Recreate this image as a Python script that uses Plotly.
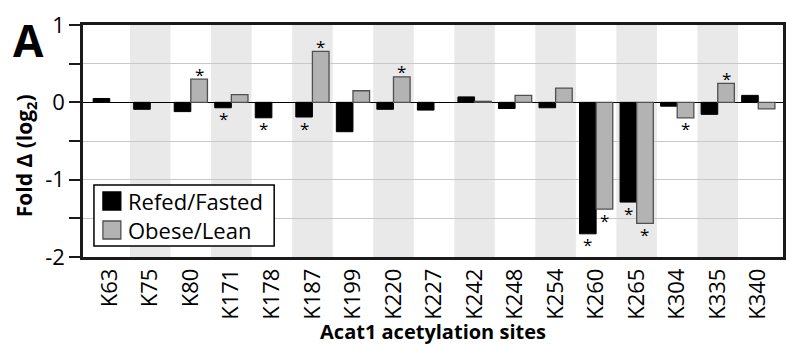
import plotly.graph_objects as go

# Acat1 acetylation sites and log2 fold changes
sites = ["K63", "K75", "K80", "K171", "K178", "K187", "K199", "K220", "K227",
         "K242", "K248", "K254", "K260", "K265", "K304", "K335", "K340"]
refed_fasted = [0.05, -0.09, -0.12, -0.07, -0.20, -0.19, -0.38, -0.09, -0.10,
                0.07, -0.08, -0.07, -1.70, -1.29, -0.05, -0.155, 0.09]
obese_lean = [None, None, 0.30, 0.10, None, 0.66, 0.15, 0.33, None,
              0.013, 0.09, 0.185, -1.38, -1.565, -0.20, 0.245, -0.085]
# significance flags (asterisks)
refed_sig = [False, False, False, True, True, True, False, False, False,
             False, False, False, True, True, False, False, False]
obese_sig = [False, False, True, False, False, True, False, True, False,
             False, False, False, True, True, True, True, False]

series_names = ["Refed/Fasted", "Obese/Lean"]
series_fill = ["#000000", "#b3b3b3"]
series_edge = ["#000000", "#505050"]

y_ticks = [1, 0, -1, -2]
y_ticktext = ["1", "0", "-1", "-2"]
y_minor = [0.5, -0.5, -1.5]

FONT = "Open Sans"
BARGAP = 0.18
half_w = (1 - BARGAP) / 4  # offset of each bar centre within its group

W, H = 787, 345
M_L, M_R, M_T, M_B = 83, 1, 25, 88
plot_w = W - M_L - M_R
plot_h = H - M_T - M_B


def px_x(p):
    """page pixel column -> paper x"""
    return (p - M_L) / plot_w


def px_y(p):
    """page pixel row -> paper y"""
    return (H - M_B - p) / plot_h


fig = go.Figure()
for name, vals, fill, edge, lw in zip(series_names, [refed_fasted, obese_lean],
                                      series_fill, series_edge, [1, 1.3]):
    fig.add_trace(go.Bar(
        x=sites, y=vals, name=name, showlegend=False,
        marker=dict(color=fill, line=dict(color=edge, width=lw)),
    ))

# alternating shaded columns
shapes = []
for i in range(1, len(sites), 2):
    shapes.append(dict(type="rect", xref="x", yref="paper",
                       x0=i - 0.5, x1=i + 0.5, y0=0, y1=1,
                       fillcolor="#e9e9e9", line=dict(width=0), layer="below"))

annotations = []

# asterisks over significant bars
def add_stars(values, flags, offset):
    for i, (v, s) in enumerate(zip(values, flags)):
        if s and v is not None:
            annotations.append(dict(
                x=i + offset, y=v, xref="x", yref="y", text="*",
                showarrow=False, xanchor="center", yanchor="middle",
                yshift=5 if v > 0 else -11,
                font=dict(family=FONT, size=17, color="#000000")))


add_stars(refed_fasted, refed_sig, -half_w)
add_stars(obese_lean, obese_sig, half_w)

# legend box with swatches
shapes.append(dict(type="rect", xref="paper", yref="paper",
                   x0=px_x(94), x1=px_x(275), y0=px_y(246), y1=px_y(185),
                   fillcolor="white", line=dict(color="#000000", width=1.5),
                   layer="above"))
for k, (name, fill, edge) in enumerate(zip(series_names, series_fill, series_edge)):
    top = 192 + k * 29
    shapes.append(dict(type="rect", xref="paper", yref="paper",
                       x0=px_x(103), x1=px_x(121), y0=px_y(top + 18), y1=px_y(top),
                       fillcolor=fill, line=dict(color=edge, width=1.3),
                       layer="above"))
    annotations.append(dict(
        x=px_x(126), y=px_y(top + 9), xref="paper", yref="paper",
        xanchor="left", yanchor="middle", text=name, showarrow=False,
        font=dict(family=FONT, size=22, color="#000000")))

# panel letter and y-axis title
annotations.append(dict(
    x=px_x(11), y=px_y(8), xref="paper", yref="paper",
    xanchor="left", yanchor="top", text="<b>A</b>", showarrow=False,
    font=dict(family=FONT, size=44, color="#000000")))
annotations.append(dict(
    x=px_x(25), y=px_y(156), xref="paper", yref="paper",
    xanchor="center", yanchor="middle", textangle=-90,
    text="<b>Fold Δ (log<sub>2</sub>)</b>", showarrow=False,
    font=dict(family=FONT, size=21, color="#000000")))

fig.update_layout(
    width=W, height=H,
    margin=dict(l=M_L, r=M_R, t=M_T, b=M_B),
    paper_bgcolor="white", plot_bgcolor="white",
    barmode="group", bargap=BARGAP, bargroupgap=0,
    font=dict(family=FONT, size=22, color="#000000"),
    shapes=shapes, annotations=annotations,
    showlegend=False,
)

fig.update_xaxes(
    type="category", range=[-0.66, 16.61],
    tickangle=-90, ticks="", showgrid=False,
    showline=True, mirror=True, linecolor="#1a1a1a", linewidth=2.5,
    tickfont=dict(family=FONT, size=22),
    title=dict(text="<b>Acat1 acetylation sites</b>",
               font=dict(family=FONT, size=20), standoff=4),
)
fig.update_yaxes(
    range=[-2, 1], tickvals=y_ticks, ticktext=y_ticktext,
    ticks="outside", ticklen=11, tickwidth=2, tickcolor="#1a1a1a",
    showgrid=True, gridcolor="#c8c8c8", gridwidth=1,
    minor=dict(tickvals=y_minor, ticks="outside", ticklen=11, tickwidth=2,
               tickcolor="#1a1a1a", showgrid=True, gridcolor="#c8c8c8",
               gridwidth=1),
    zeroline=True, zerolinecolor="#000000", zerolinewidth=1,
    showline=True, mirror=True, linecolor="#1a1a1a", linewidth=2.5,
    tickfont=dict(family=FONT, size=22),
)

fig.write_html("out.html")
